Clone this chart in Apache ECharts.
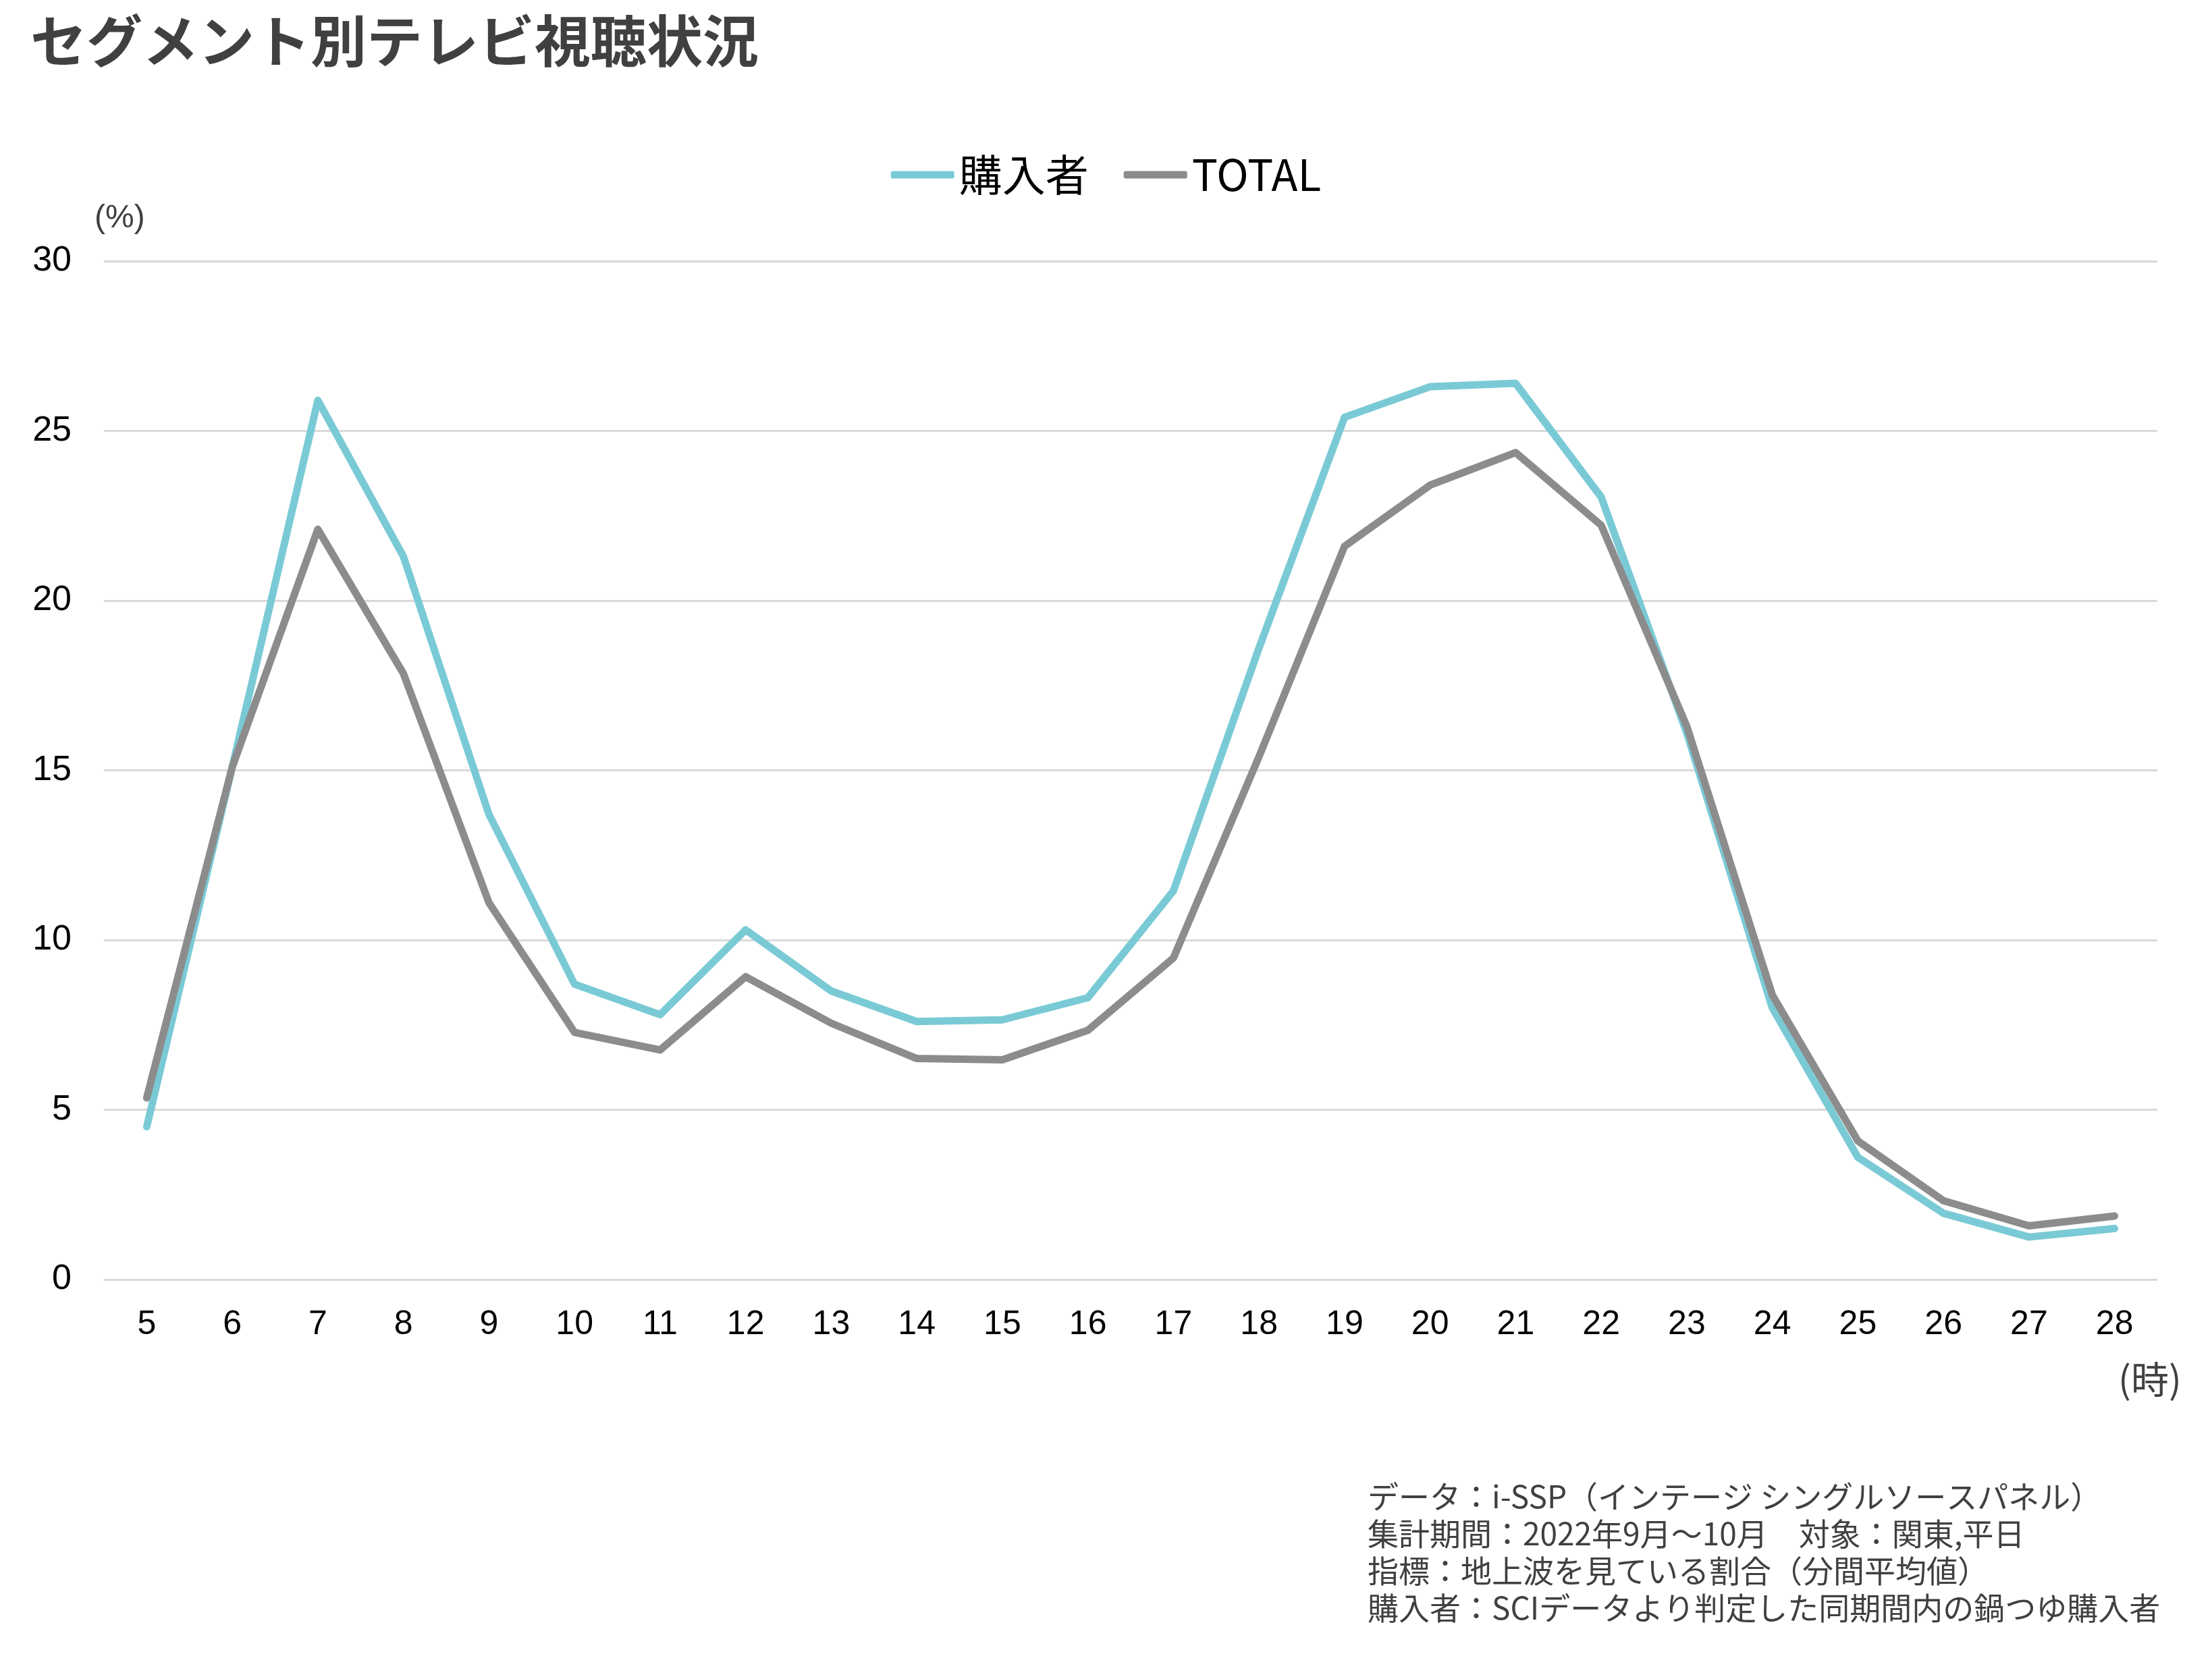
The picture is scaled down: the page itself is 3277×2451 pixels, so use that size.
<!DOCTYPE html>
<html>
<head>
<meta charset="utf-8">
<title>セグメント別テレビ視聴状況</title>
<script src="https://cdn.jsdelivr.net/npm/echarts@6/dist/echarts.min.js"></script>
<style>
  html, body { margin: 0; padding: 0; background: #fff; }
  #chart { width: 3277px; height: 2451px; }
</style>
</head>
<body>
<div id="chart"></div>
<script>
// 時間帯（5時〜28時）
var hours = ['5', '6', '7', '8', '9', '10', '11', '12', '13', '14', '15', '16',
  '17', '18', '19', '20', '21', '22', '23', '24', '25', '26', '27', '28'];

// 購入者
var buyerValues = [4.5, 15.1, 25.9, 21.3, 13.7, 8.7, 7.8, 10.3, 8.5, 7.6, 7.65, 8.3,
  11.45, 18.6, 25.4, 26.3, 26.4, 23.05, 16.1, 8.0, 3.6, 1.95, 1.25, 1.5];

// TOTAL
var totalValues = [5.35, 15.1, 22.1, 17.85, 11.1, 7.28, 6.76, 8.92, 7.55, 6.51, 6.47, 7.34,
  9.47, 15.4, 21.6, 23.4, 24.36, 22.22, 16.3, 8.38, 4.08, 2.32, 1.58, 1.87];

var seriesNames = ['購入者', 'TOTAL'];
var seriesColors = ['#7ACAD6', '#8C8C8C'];

// 注記
var noteLines = [
  'データ：i-SSP（インテージ シングルソースパネル）',
  '集計期間：2022年9月〜10月　対象：関東,平日',
  '指標：地上波を見ている割合（分間平均値）',
  '購入者：SCIデータより判定した同期間内の鍋つゆ購入者'
];

var jpFont = '"Noto Sans CJK JP", "Noto Sans", sans-serif';
var numFont = '"Liberation Sans", Arial, sans-serif';

var myChart = echarts.init(document.getElementById('chart'));

var lineSeries = function (name, data, color) {
  return {
    name: name,
    type: 'line',
    data: data,
    symbol: 'none',
    z: name == 'TOTAL' ? 3 : 2,
    lineStyle: { color: color, width: 11, cap: 'round', join: 'round' },
    itemStyle: { color: color },
    emphasis: { disabled: true }
  };
};

var option = {
  backgroundColor: '#ffffff',
  animation: false,
  title: {
    text: 'セグメント別テレビ視聴状況',
    left: 40,
    top: 14,
    textStyle: {
      fontFamily: jpFont,
      fontSize: 83,
      fontWeight: 'bold',
      color: '#404040'
    }
  },
  legend: {
    left: 'center',
    top: 222,
    icon: 'roundRect',
    itemWidth: 94,
    itemHeight: 11,
    itemGap: 52,
    data: seriesNames,
    textStyle: {
      fontFamily: jpFont,
      fontSize: 64,
      color: '#000000',
      padding: [0, 0, 0, 2]
    }
  },
  grid: {
    left: 154,
    right: 81,
    top: 387,
    bottom: 555,
    containLabel: false
  },
  xAxis: {
    type: 'category',
    data: hours,
    boundaryGap: true,
    axisLine: { show: false },
    axisTick: { show: false },
    splitLine: { show: false },
    axisLabel: {
      margin: 42,
      fontFamily: numFont,
      fontSize: 50,
      color: '#000000'
    }
  },
  yAxis: {
    type: 'value',
    min: 0,
    max: 30,
    interval: 5,
    axisLine: { show: false },
    axisTick: { show: false },
    splitLine: { lineStyle: { color: '#D9D9D9', width: 3 } },
    axisLabel: {
      margin: 48,
      fontFamily: numFont,
      fontSize: 52,
      color: '#000000'
    }
  },
  graphic: [
    {
      type: 'text',
      left: 140,
      top: 300,
      style: {
        text: '(%)',
        font: '48px ' + numFont,
        fill: '#404040'
      }
    },
    {
      type: 'text',
      left: 3138,
      top: 2016,
      style: {
        text: '(時)',
        font: '56px ' + jpFont,
        fill: '#404040'
      }
    },
    {
      type: 'text',
      left: 2026,
      top: 2190,
      style: {
        text: noteLines.join('\n'),
        font: '46px ' + jpFont,
        lineHeight: 55,
        fill: '#404040'
      }
    }
  ],
  series: [
    lineSeries(seriesNames[0], buyerValues, seriesColors[0]),
    lineSeries(seriesNames[1], totalValues, seriesColors[1])
  ]
};

myChart.setOption(option);
</script>
</body>
</html>
